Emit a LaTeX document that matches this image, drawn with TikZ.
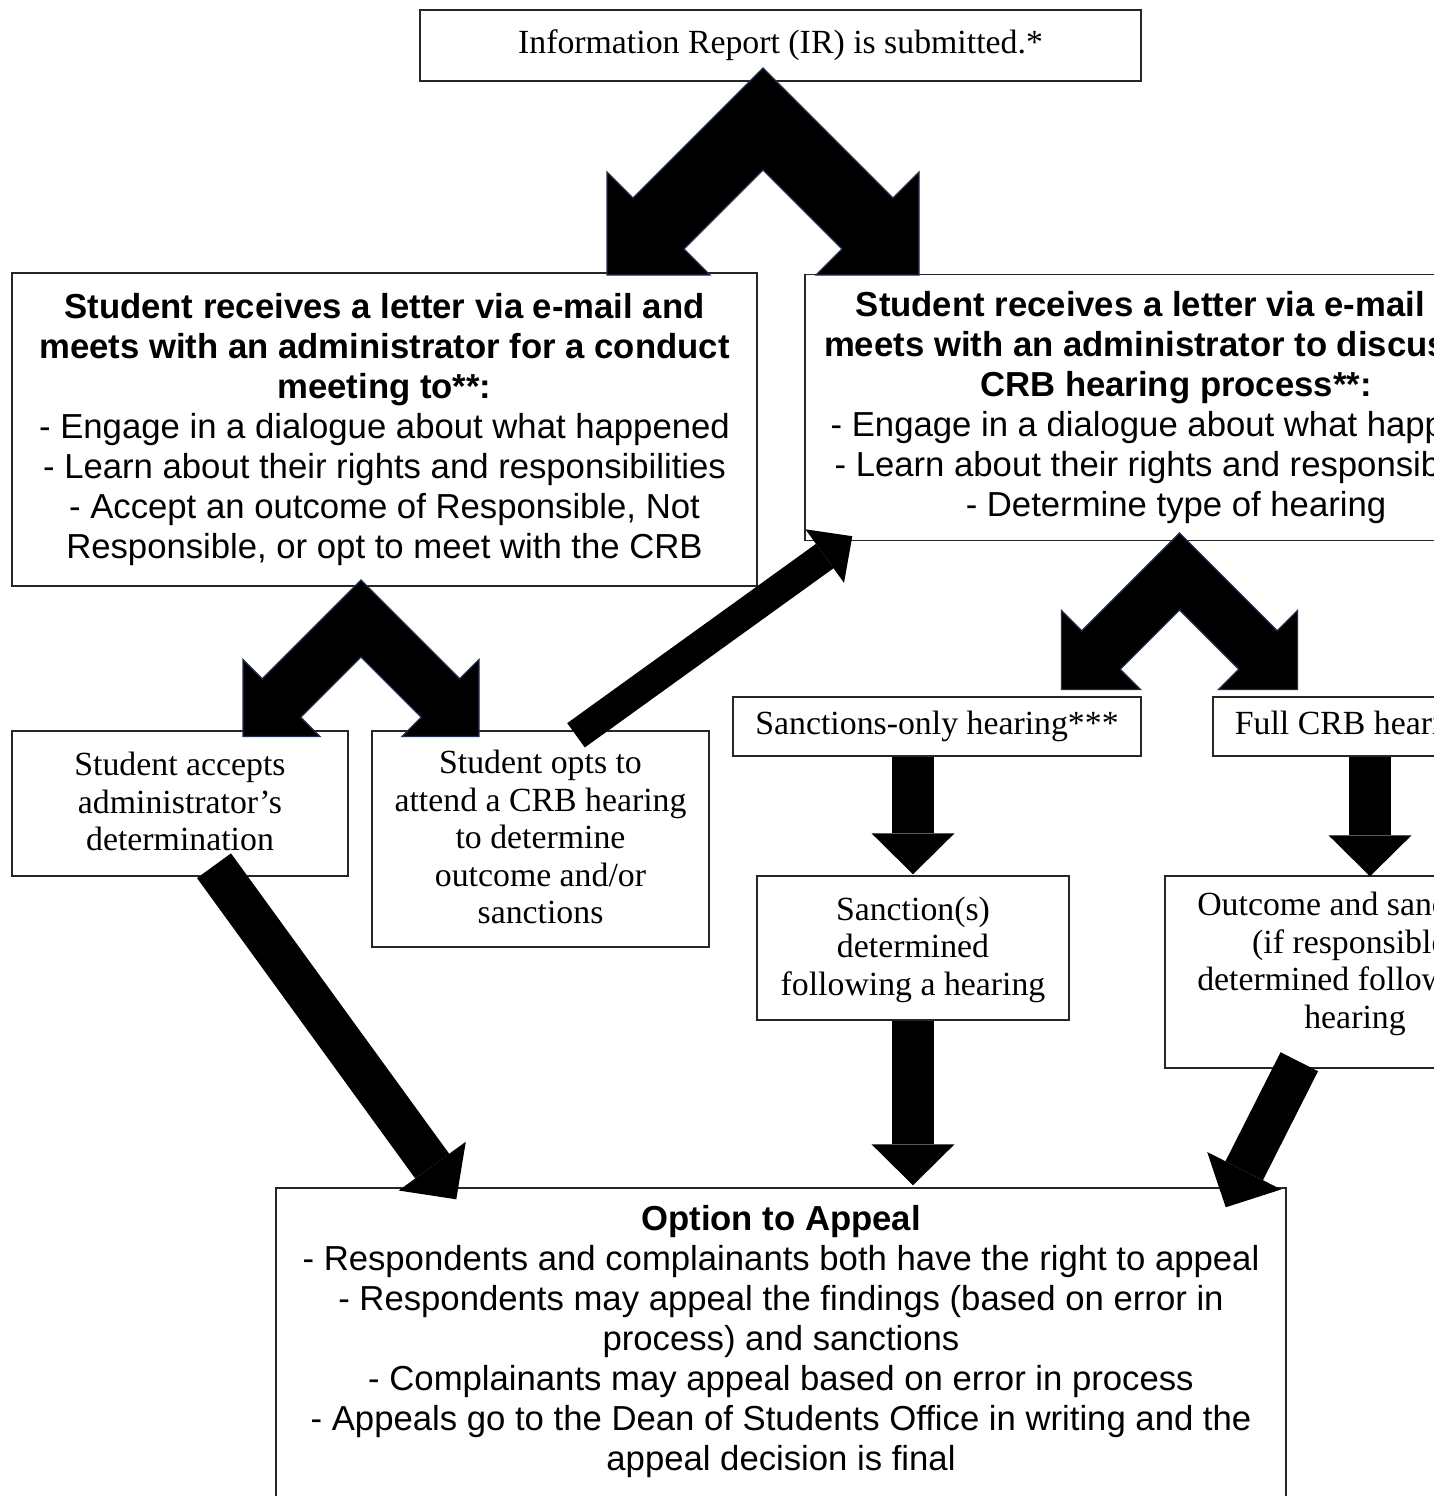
\documentclass[tikz,border=0pt]{standalone}
\usepackage{fontspec}
\setmainfont{Liberation Serif}
\newfontfamily\arial{Liberation Sans}
\usetikzlibrary{arrows.meta}
\definecolor{chevedge}{RGB}{35,45,80}
\begin{document}
\begin{tikzpicture}[x=1pt,y=-1pt,
  box/.style={draw=black!85, line width=1.4pt, fill=white, inner sep=0pt, align=center},
  serifbox/.style={box, font=\fontsize{33.8}{37.5}\selectfont},
  sansbox/.style={box, font=\arial\fontsize{34.7}{40}\selectfont},
  blk/.style={line width=42pt, -{Triangle[length=41pt,width=83pt,line width=0pt]}},
  thinblk/.style={line width=30pt, -{Triangle[length=34pt,width=66pt,line width=0pt]}},
  chev/.style={fill=black, draw=chevedge, line width=1.2pt, line join=miter}]
\useasboundingbox (0,0) rectangle (1434,1496);
\clip (0,0) rectangle (1434,1496);
\fill[white] (0,0) rectangle (1434,1496);

% boxes
\node[serifbox, minimum width=721pt, minimum height=71pt] (ir) at (780.5,45.5)
  {Information Report (IR) is submitted.*};

\node[sansbox, minimum width=745pt, minimum height=313pt] (ma) at (384.5,429.5)
  {\textbf{Student receives a letter via e-mail and}\\
   \textbf{meets with an administrator for a conduct}\\
   \textbf{meeting to**:}\\
   - Engage in a dialogue about what happened\\
   - Learn about their rights and responsibilities\\
   - Accept an outcome of Responsible, Not\\
   Responsible, or opt to meet with the CRB};

\node[sansbox, minimum width=742pt, minimum height=266pt] (mb) at (1176,407.5)
  {\textbf{Student receives a letter via e-mail and}\\
   \textbf{meets with an administrator to discuss the}\\
   \textbf{CRB hearing process**:}\\
   - Engage in a dialogue about what happened\\
   - Learn about their rights and responsibilities\\
   - Determine type of hearing};

\node[serifbox, minimum width=336pt, minimum height=145pt] (acc) at (180,803.5)
  {Student accepts\\administrator’s\\determination\\[-34pt]\mbox{}};

\node[serifbox, minimum width=337pt, minimum height=216pt] (opt) at (540.5,839)
  {Student opts to\\attend a CRB hearing\\to determine\\outcome and/or\\sanctions\\[-34pt]\mbox{}};

\node[serifbox, minimum width=408pt, minimum height=59pt] (so) at (937,726.5)
  {Sanctions-only hearing***};

\node[serifbox, minimum width=284pt, minimum height=59pt] (fc) at (1355,726.5)
  {Full CRB hearing};

\node[serifbox, minimum width=312pt, minimum height=144pt] (sd) at (913,948)
  {Sanction(s)\\determined\\following a hearing\\[-34pt]\mbox{}};

\node[serifbox, minimum width=380pt, minimum height=192pt] (oc) at (1355,972)
  {Outcome and sanctions\\(if responsible)\\determined following a\\hearing\\[-14pt]\mbox{}};

\node[sansbox, minimum width=1010pt, minimum height=330pt] (ap) at (781,1353)
  {\textbf{Option to Appeal}\\
   - Respondents and complainants both have the right to appeal\\
   - Respondents may appeal the findings (based on error in\\
   process) and sanctions\\
   - Complainants may appeal based on error in process\\
   - Appeals go to the Dean of Students Office in writing and the\\
   appeal decision is final\\[-10pt]\mbox{}};

% chevron (two-headed bent) arrows
\filldraw[chev] (763,68) -- (893,198) -- (919,172) -- (919,275) -- (816,275) -- (842,249)
  -- (763,170) -- (684,249) -- (710,275) -- (607,275) -- (607,172) -- (633,198) -- cycle;
\filldraw[chev] (361,580) -- (459.75,678.75) -- (479,659.5) -- (479,736.5) -- (402,736.5)
  -- (421.25,717.25) -- (361,657) -- (300.75,717.25) -- (320,736.5) -- (243,736.5)
  -- (243,659.5) -- (262.25,678.75) -- cycle;
\filldraw[chev] (1179.5,533) -- (1277.25,630.75) -- (1297.5,610.5) -- (1297.5,689.5)
  -- (1218.5,689.5) -- (1238.75,669.25) -- (1179.5,610) -- (1120.25,669.25)
  -- (1140.5,689.5) -- (1061.5,689.5) -- (1061.5,610.5) -- (1081.75,630.75) -- cycle;

% block arrows
\draw[thinblk] ([shift={(35.5,5)}]opt.north) -- ([shift={(48,-5)}]mb.south west);
\draw[blk] (sd.north |- so.south) -- ([yshift=1pt]sd.north);
\draw[blk] ([xshift=15pt]oc.north |- fc.south) -- ([shift={(15,1)}]oc.north);
\draw[blk] (sd.south) -- ([yshift=2pt]sd.south |- ap.north);
\draw[blk] ([shift={(34,-11)}]acc.south) -- ([shift={(181,12)}]ap.north west);
\draw[blk] ([shift={(135,-7)}]oc.south west) -- ([shift={(-61,20)}]ap.north east);
\end{tikzpicture}
\end{document}
